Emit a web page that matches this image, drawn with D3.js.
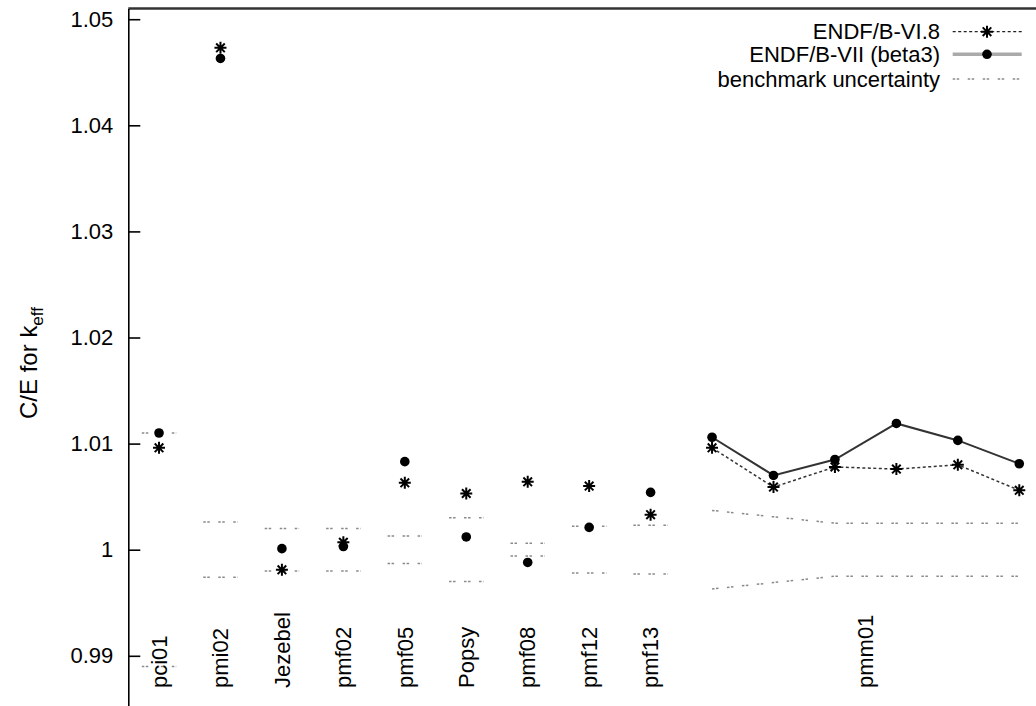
<!DOCTYPE html>
<html>
<head>
<meta charset="utf-8">
<script src="https://cdn.jsdelivr.net/npm/d3@7"></script>
<style>
  body { margin: 0; background: #fff; }
  text { font-family: "Liberation Sans", Arial, sans-serif; fill: #000; }
</style>
</head>
<body>
<div id="chart-area"></div>
<script>
// benchmark case at each x position (pmm01 has six configurations)
var caseGroup = ["pci01", "pmi02", "Jezebel", "pmf02", "pmf05", "Popsy", "pmf08", "pmf12", "pmf13",
                 "pmm01", "pmm01", "pmm01", "pmm01", "pmm01", "pmm01"];
var casePos = [1, 2, 3, 4, 5, 6, 7, 8, 9, 10, 11, 12, 13, 14, 15];

var endf68 = [1.0096, 1.0473, 0.9981, 1.0007, 1.0063, 1.0053, 1.0064, 1.0060, 1.0033,
              1.0096, 1.0059, 1.0078, 1.0076, 1.0080, 1.0056];
var endf7  = [1.0110, 1.0463, 1.0001, 1.0003, 1.0083, 1.0012, 0.9988, 1.0021, 1.0054,
              1.0106, 1.0070, 1.0085, 1.0119, 1.0103, 1.0081];
var benchUnc = [0.011, 0.0026, 0.0020, 0.0020, 0.0013, 0.0030, 0.0006, 0.0022, 0.0023,
                0.0037, 0.0031, 0.0025, 0.0025, 0.0025, 0.0025];

var yTicks = [0.99, 1, 1.01, 1.02, 1.03, 1.04, 1.05];
var legendNames = ["ENDF/B-VI.8", "ENDF/B-VII (beta3)", "benchmark uncertainty"];

var W = 1036, H = 706;
var svg = d3.select("#chart-area").append("svg")
            .attr("width", W)
            .attr("height", H);

var x = d3.scaleLinear()
          .domain([0.5, 15.5])
          .range([128.3, 1050]);

var y = d3.scaleLinear()
          .domain([0.98, 1.051])
          .range([761.9, 8.6]);

var data = casePos.map((p, i) => {
  return {pos: p, group: caseGroup[i], v6: endf68[i], v7: endf7[i], u: benchUnc[i]};
});
var groups = d3.groups(data, (d) => d.group);

// top border
svg.append("line")
   .attr("x1", x(0.5)).attr("x2", W)
   .attr("y1", y(1.051)).attr("y2", y(1.051))
   .attr("stroke", "#333").attr("stroke-width", 2.5);

// y axis, ticks pointing into the plot
var yAxis = d3.axisLeft(y)
              .tickValues(yTicks)
              .tickSizeInner(-12)
              .tickSizeOuter(0)
              .tickPadding(15)
              .tickFormat((d) => String(+d.toFixed(2)));
var ga = svg.append("g")
            .attr("transform", "translate(" + x(0.5) + ",0)")
            .call(yAxis);
ga.select(".domain").attr("stroke", "#000").attr("stroke-width", 1.6);
ga.selectAll(".tick line").attr("stroke", "#000").attr("stroke-width", 1.6);
ga.selectAll(".tick text")
  .attr("font-size", 22)
  .attr("font-family", "Liberation Sans, Arial, sans-serif")
  .attr("fill", "#000");

// y label
var yl = svg.append("text")
            .attr("transform", "translate(37,363) rotate(-90)")
            .attr("text-anchor", "middle")
            .attr("font-size", 24);
yl.append("tspan").text("C/E for k");
yl.append("tspan").attr("font-size", 17).attr("dy", 6).text("eff");

// benchmark uncertainty band edges
var uncDash = "2.5,1.5,2.5,8.5";
var half = 0.28;
groups.forEach(([name, pts]) => {
  [1, -1].forEach((s) => {
    var line;
    if (pts.length === 1) {
      var d = pts[0];
      line = [[x(d.pos - half), y(1 + s * d.u)], [x(d.pos + half), y(1 + s * d.u)]];
    } else {
      line = pts.map((d) => [x(d.pos), y(1 + s * d.u)]);
    }
    svg.append("path")
       .attr("d", d3.line()(line))
       .attr("fill", "none")
       .attr("stroke", "#8a8a8a")
       .attr("stroke-width", 1.5)
       .attr("stroke-dasharray", uncDash);
  });
});

// connecting lines for multi-point cases
groups.filter(([name, pts]) => pts.length > 1).forEach(([name, pts]) => {
  svg.append("path")
     .attr("d", d3.line().x((d) => x(d.pos)).y((d) => y(d.v6))(pts))
     .attr("fill", "none")
     .attr("stroke", "#333")
     .attr("stroke-width", 1.5)
     .attr("stroke-dasharray", "3,2.5");
  svg.append("path")
     .attr("d", d3.line().x((d) => x(d.pos)).y((d) => y(d.v7))(pts))
     .attr("fill", "none")
     .attr("stroke", "#333")
     .attr("stroke-width", 2);
});

var star = "M-6,0H6M0,-6V6M-4.3,-4.3L4.3,4.3M-4.3,4.3L4.3,-4.3";

svg.selectAll(".p6")
   .data(data)
   .enter().append("path")
   .attr("class", "p6")
   .attr("d", star)
   .attr("transform", (d) => "translate(" + x(d.pos) + "," + y(d.v6) + ")")
   .attr("fill", "none")
   .attr("stroke", "#000")
   .attr("stroke-width", 2);

svg.selectAll(".p7")
   .data(data)
   .enter().append("circle")
   .attr("class", "p7")
   .attr("cx", (d) => x(d.pos))
   .attr("cy", (d) => y(d.v7))
   .attr("r", 4.8)
   .attr("fill", "#000");

// case labels
svg.selectAll(".clab")
   .data(groups)
   .enter().append("text")
   .attr("class", "clab")
   .attr("transform", (g) => "translate(" + x(d3.mean(g[1], (d) => d.pos)) + ",688) rotate(-90)")
   .attr("dy", "0.35em")
   .attr("font-size", 22)
   .text((g) => g[0]);

// legend
var lg = svg.append("g");
var rows = [31.7, 54.3, 79];
legendNames.forEach((name, i) => {
  lg.append("text")
    .attr("x", 940)
    .attr("y", rows[i])
    .attr("dy", "0.35em")
    .attr("text-anchor", "end")
    .attr("font-size", 22)
    .text(name);
});
lg.append("line")
  .attr("x1", 952.7).attr("x2", 1021.7).attr("y1", rows[0]).attr("y2", rows[0])
  .attr("stroke", "#222").attr("stroke-width", 1.3).attr("stroke-dasharray", "3,2.5");
lg.append("path")
  .attr("d", star)
  .attr("transform", "translate(987," + rows[0] + ")")
  .attr("fill", "none").attr("stroke", "#000").attr("stroke-width", 2);
lg.append("line")
  .attr("x1", 952.7).attr("x2", 1021.7).attr("y1", rows[1]).attr("y2", rows[1])
  .attr("stroke", "#aaa").attr("stroke-width", 3.5);
lg.append("circle")
  .attr("cx", 987).attr("cy", rows[1]).attr("r", 4.8).attr("fill", "#000");
lg.append("line")
  .attr("x1", 952.7).attr("x2", 1021.7).attr("y1", rows[2]).attr("y2", rows[2])
  .attr("stroke", "#8a8a8a").attr("stroke-width", 1.5).attr("stroke-dasharray", uncDash);
</script>
</body>
</html>
